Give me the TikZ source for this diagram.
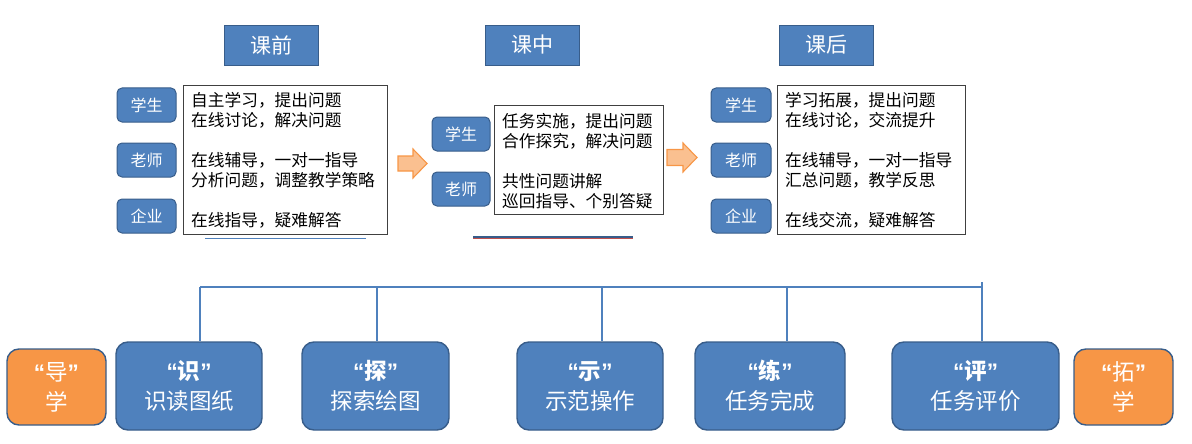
\documentclass[tikz,border=0pt]{standalone}
\usepackage{fontspec}
\setmainfont{Noto Sans CJK SC}
\newfontfamily\latinq{Liberation Sans}
\definecolor{myblue}{HTML}{4F81BD}
\definecolor{myblueline}{HTML}{385D8A}
\definecolor{myorange}{HTML}{F79646}
\definecolor{arrowfill}{HTML}{FAC090}
\definecolor{myred}{HTML}{C0504D}
\newcommand{\qq}[1]{{\latinq\bfseries “}#1{\latinq\bfseries ”}}
\tikzset{
  hdr/.style={draw=myblueline, line width=0.8pt, fill=myblue, text=white, minimum width=94pt, minimum height=40pt, inner sep=0pt, font=\fontsize{21}{24}\selectfont},
  role/.style={draw=myblueline, line width=1pt, fill=myblue, text=white, rounded corners=5pt, minimum height=34pt, inner sep=0pt, font=\fontsize{16}{18}\selectfont},
  wbox/.style={draw=black!75, line width=0.8pt, fill=white, inner sep=0pt},
  wtext/.style={anchor=west, align=left, inner sep=0pt, font=\fontsize{16.7}{20}\selectfont},
  bigbox/.style={draw=myblueline, line width=1.4pt, fill=myblue, text=white, rounded corners=12pt, minimum height=88pt, inner sep=0pt, align=center, font=\fontsize{22.5}{30}\selectfont},
  orbox/.style={draw=myblueline, line width=1.4pt, fill=myorange, text=white, rounded corners=12pt, minimum width=99pt, minimum height=76pt, inner sep=0pt, align=center, font=\fontsize{22.5}{30}\selectfont},
  bus/.style={draw=myblue, line width=1.6pt},
  blockarrow/.style={draw=myorange, fill=arrowfill, line width=1.1pt, line join=miter}
}
\begin{document}
\begin{tikzpicture}[x=1pt,y=-1pt]
\useasboundingbox (0,0) rectangle (1192,444);
% headers
\node[hdr] (hpre) at (271,45) {课前};
\node[hdr] (hmid) at (532,45) {课中};
\node[hdr] (hpost) at (826,45) {课后};
% left group
\node[wbox, minimum width=204pt, minimum height=149pt] (bpre) at (285,159.5) {};
\node[wtext] (tpre) at (191,160) {自主学习，提出问题\\在线讨论，解决问题\\[20pt]在线辅导，一对一指导\\分析问题，调整教学策略\\[20pt]在线指导，疑难解答};
\node[role, minimum width=59pt] (s1) at (146.5,105) {学生};
\node[role, minimum width=59pt] (t1) at (146.5,160) {老师};
\node[role, minimum width=59pt] (e1) at (146.5,216) {企业};
\coordinate (u1a) at (205,238);
\coordinate (u1b) at (366,238);
\draw[draw=myblue, line width=0.8pt] (u1a) -- (u1b);
% middle group
\node[wbox, minimum width=169pt, minimum height=109pt] (bmid) at (578.5,159.5) {};
\node[wtext] (tmid) at (502,161) {任务实施，提出问题\\合作探究，解决问题\\[20pt]共性问题讲解\\巡回指导、个别答疑};
\node[role, minimum width=58pt] (s2) at (461,134) {学生};
\node[role, minimum width=58pt] (t2) at (461,189) {老师};
\coordinate (u2a) at (473,236.8);
\coordinate (u2b) at (633,236.8);
\coordinate (u2c) at (473,238.6);
\coordinate (u2d) at (633,238.6);
\draw[draw=myblueline, line width=1.6pt] (u2a) -- (u2b);
\draw[draw=myred, line width=1.3pt] (u2c) -- (u2d);
% right group
\node[wbox, minimum width=188pt, minimum height=149pt] (bpost) at (871,159.5) {};
\node[wtext] (tpost) at (785,160) {学习拓展，提出问题\\在线讨论，交流提升\\[20pt]在线辅导，一对一指导\\汇总问题，教学反思\\[20pt]在线交流，疑难解答};
\node[role, minimum width=60pt] (s3) at (741,105) {学生};
\node[role, minimum width=60pt] (t3) at (741,160) {老师};
\node[role, minimum width=60pt] (e3) at (741,216) {企业};
% arrows
\draw[blockarrow] (398,156) -- (413,156) -- (413,149) -- (427,163.5) -- (413,178) -- (413,171) -- (398,171) -- cycle;
\draw[blockarrow] (667,149.5) -- (683,149.5) -- (683,143) -- (697,157.5) -- (683,172) -- (683,165.5) -- (667,165.5) -- cycle;
% bottom boxes
\node[orbox] (dao) at (56.5,387) {\qq{导}\\学};
\node[bigbox, minimum width=146pt] (shi) at (189,386) {\qq{\bfseries 识}\\识读图纸};
\node[bigbox, minimum width=147pt] (tan) at (375.5,386) {\qq{\bfseries 探}\\探索绘图};
\node[bigbox, minimum width=146pt] (shi2) at (590,386) {\qq{\bfseries 示}\\示范操作};
\node[bigbox, minimum width=150pt] (lian) at (770,386) {\qq{\bfseries 练}\\任务完成};
\node[bigbox, minimum width=167pt] (ping) at (975.5,386) {\qq{\bfseries 评}\\任务评价};
\node[orbox] (tuo) at (1123.5,387) {\qq{拓}\\学};
% bus
\coordinate (c1) at (200,287);
\coordinate (c2) at (377,287);
\coordinate (c3) at (602,287);
\coordinate (c4) at (787,287);
\coordinate (c5) at (982,287);
\coordinate (c5top) at (982,282);
\draw[bus] (c1) -- (c5);
\draw[bus] (c1) -- (c1 |- shi.north);
\draw[bus] (c2) -- (c2 |- tan.north);
\draw[bus] (c3) -- (c3 |- shi2.north);
\draw[bus] (c4) -- (c4 |- lian.north);
\draw[bus] (c5top) -- (c5top |- ping.north);
\end{tikzpicture}
\end{document}
